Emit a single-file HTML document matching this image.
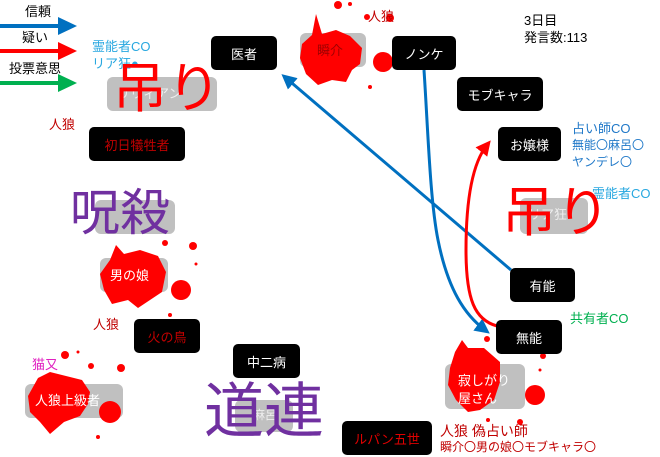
<!DOCTYPE html>
<html><head><meta charset="utf-8"><style>
*{margin:0;padding:0;box-sizing:border-box}
body{width:660px;height:457px;background:#fff;position:relative;overflow:hidden;font-family:"Liberation Sans","Noto Sans CJK JP",sans-serif}
.a{position:absolute;white-space:nowrap;line-height:1}
.b{position:absolute;background:#000;border-radius:5px;color:#fff;font-size:13px;display:flex;align-items:center;justify-content:center}
svg{position:absolute;left:0;top:0}
</style></head><body>
<svg width="660" height="457">
<defs>
<marker id="mb" markerWidth="5" markerHeight="5" refX="3" refY="2.5" orient="auto" markerUnits="strokeWidth"><path d="M0,0L5,2.5L0,5z" fill="#0070c0"/></marker>
<marker id="mr" markerWidth="5" markerHeight="5" refX="3" refY="2.5" orient="auto" markerUnits="strokeWidth"><path d="M0,0L5,2.5L0,5z" fill="#ff0000"/></marker>
</defs>
<line x1="0" y1="26" x2="60" y2="26" stroke="#0070c0" stroke-width="4"/><path d="M58,17L77,26L58,35z" fill="#0070c0"/>
<line x1="0" y1="51" x2="60" y2="51" stroke="#ff0000" stroke-width="4"/><path d="M58,42L77,51L58,60z" fill="#ff0000"/>
<line x1="0" y1="83" x2="60" y2="83" stroke="#00b050" stroke-width="4"/><path d="M58,74L77,83L58,92z" fill="#00b050"/>
<rect x="107" y="77" width="110" height="34" rx="6" fill="#c0c0c0"/>
<rect x="95" y="200" width="80" height="34" rx="6" fill="#c0c0c0"/>
<rect x="300" y="33" width="66" height="34" rx="6" fill="#c0c0c0"/>
<rect x="100" y="258" width="68" height="34" rx="6" fill="#c0c0c0"/>
<rect x="25" y="384" width="98" height="34" rx="6" fill="#c0c0c0"/>
<rect x="235" y="400" width="58" height="32" rx="6" fill="#c0c0c0"/>
<rect x="520" y="198" width="68" height="36" rx="6" fill="#c0c0c0"/>
<rect x="445" y="364" width="80" height="45" rx="6" fill="#c0c0c0"/>
<g fill="#ff0000">
<path d="M312,35L316,14L322,34L336,30L350,36L362,48L360,64L352,70L346,82L332,80L318,85L306,74L300,58L302,44z"/>
<circle cx="383" cy="62" r="10"/><circle cx="338" cy="5" r="4"/><circle cx="350" cy="4" r="2"/><circle cx="367" cy="17" r="3"/><circle cx="390" cy="18" r="4"/><circle cx="370" cy="87" r="2"/>
<path d="M110,260L116,245L124,254L140,250L158,256L166,272L162,292L150,300L138,308L128,300L112,304L104,290L100,274z"/>
<circle cx="181" cy="290" r="10"/><circle cx="193" cy="246" r="4"/><circle cx="165" cy="243" r="3"/><circle cx="170" cy="315" r="2"/><circle cx="196" cy="264" r="1.5"/>
<path d="M38,378L50,372L66,376L82,380L90,392L88,404L80,416L64,422L50,434L40,422L30,412L28,396z"/>
<circle cx="110" cy="412" r="11"/><circle cx="65" cy="355" r="4"/><circle cx="91" cy="366" r="3"/><circle cx="121" cy="368" r="4"/><circle cx="98" cy="437" r="2"/><circle cx="78" cy="352" r="1.5"/>
<path d="M455,352L462,340L468,348L484,348L500,362L500,382L494,400L480,410L468,412L456,400L448,385L450,368z"/>
<circle cx="535" cy="395" r="10"/><circle cx="487" cy="339" r="3"/><circle cx="543" cy="356" r="3"/><circle cx="540" cy="370" r="1.5"/><circle cx="520" cy="422" r="3"/><circle cx="488" cy="420" r="2"/>
</g>
<line x1="511" y1="270" x2="286" y2="78" stroke="#0070c0" stroke-width="3" marker-end="url(#mb)"/>
<path d="M424,70C428,130 430,200 438,240C448,290 465,315 485,330" fill="none" stroke="#0070c0" stroke-width="3" marker-end="url(#mb)"/>
<path d="M497,326C475,320 466,300 466,250C466,190 475,160 487,145" fill="none" stroke="#ff0000" stroke-width="3" marker-end="url(#mr)"/>
</svg>

<div class="a" style="left:25px;top:5px;font-size:13px">信頼</div>
<div class="a" style="left:22px;top:31px;font-size:13px">疑い</div>
<div class="a" style="left:9px;top:62px;font-size:13px">投票意思</div>

<div class="a" style="left:92px;top:40px;font-size:13px;color:#29a8e0">霊能者CO</div>
<div class="a" style="left:92px;top:57px;font-size:13px;color:#29a8e0">リア狂●</div>
<div class="a" style="left:117px;top:87px;font-size:13px;color:#eee">リリィアン</div>
<div class="a" style="left:113px;top:62px;font-size:54px;color:#ff0000">吊り</div>
<div class="a" style="left:49px;top:118px;font-size:13px;color:#c00000">人狼</div>
<div class="b" style="left:89px;top:127px;width:96px;height:34px;color:#c00000">初日犠牲者</div>

<div class="b" style="left:211px;top:36px;width:66px;height:34px">医者</div>
<div class="a" style="left:317px;top:44px;font-size:13px;color:#a00000">瞬介</div>
<div class="a" style="left:368px;top:10px;font-size:13px;color:#c00000">人狼</div>
<div class="b" style="left:392px;top:36px;width:64px;height:34px">ノンケ</div>
<div class="b" style="left:457px;top:77px;width:86px;height:34px">モブキャラ</div>
<div class="b" style="left:498px;top:127px;width:63px;height:34px">お嬢様</div>
<div class="a" style="left:524px;top:14px;font-size:13px">3日目</div>
<div class="a" style="left:524px;top:31px;font-size:13px">発言数:113</div>
<div class="a" style="left:572px;top:122px;font-size:13px;color:#1f78c8">占い師CO</div>
<div class="a" style="left:572px;top:139px;font-size:12px;color:#1f78c8">無能〇麻呂〇</div>
<div class="a" style="left:572px;top:156px;font-size:12px;color:#1f78c8">ヤンデレ〇</div>
<div class="a" style="left:592px;top:187px;font-size:13px;color:#29a8e0">霊能者CO</div>
<div class="a" style="left:528px;top:208px;font-size:13px;color:#eee">リア狂</div>
<div class="a" style="left:502px;top:186px;font-size:54px;color:#ff0000">吊り</div>

<div class="a" style="left:70px;top:188px;font-size:50px;color:#7030a0">呪殺</div>
<div class="a" style="left:110px;top:269px;font-size:13px;color:#fff">男の娘</div>
<div class="a" style="left:93px;top:318px;font-size:13px;color:#c00000">人狼</div>
<div class="b" style="left:134px;top:319px;width:66px;height:34px;color:#c00000">火の鳥</div>
<div class="b" style="left:233px;top:344px;width:67px;height:34px">中二病</div>
<div class="a" style="left:32px;top:358px;font-size:13px;color:#e020c0">猫又</div>
<div class="a" style="left:35px;top:394px;font-size:13px;color:#fff">人狼上級者</div>
<div class="a" style="left:253px;top:409px;font-size:12px;color:#eee">麻呂</div>
<div class="a" style="left:204px;top:382px;font-size:60px;color:#7030a0">道連</div>

<div class="b" style="left:510px;top:268px;width:65px;height:34px">有能</div>
<div class="a" style="left:570px;top:312px;font-size:13px;color:#00b050">共有者CO</div>
<div class="b" style="left:496px;top:320px;width:66px;height:34px">無能</div>
<div class="a" style="left:458px;top:372px;font-size:13px;color:#fff;line-height:18px">寂しがり<br>屋さん</div>
<div class="b" style="left:342px;top:421px;width:90px;height:34px;color:#e00000">ルパン五世</div>
<div class="a" style="left:440px;top:424px;font-size:14px;color:#c00000">人狼 偽占い師</div>
<div class="a" style="left:440px;top:441px;font-size:12px;color:#c00000">瞬介〇男の娘〇モブキャラ〇</div>
</body></html>
